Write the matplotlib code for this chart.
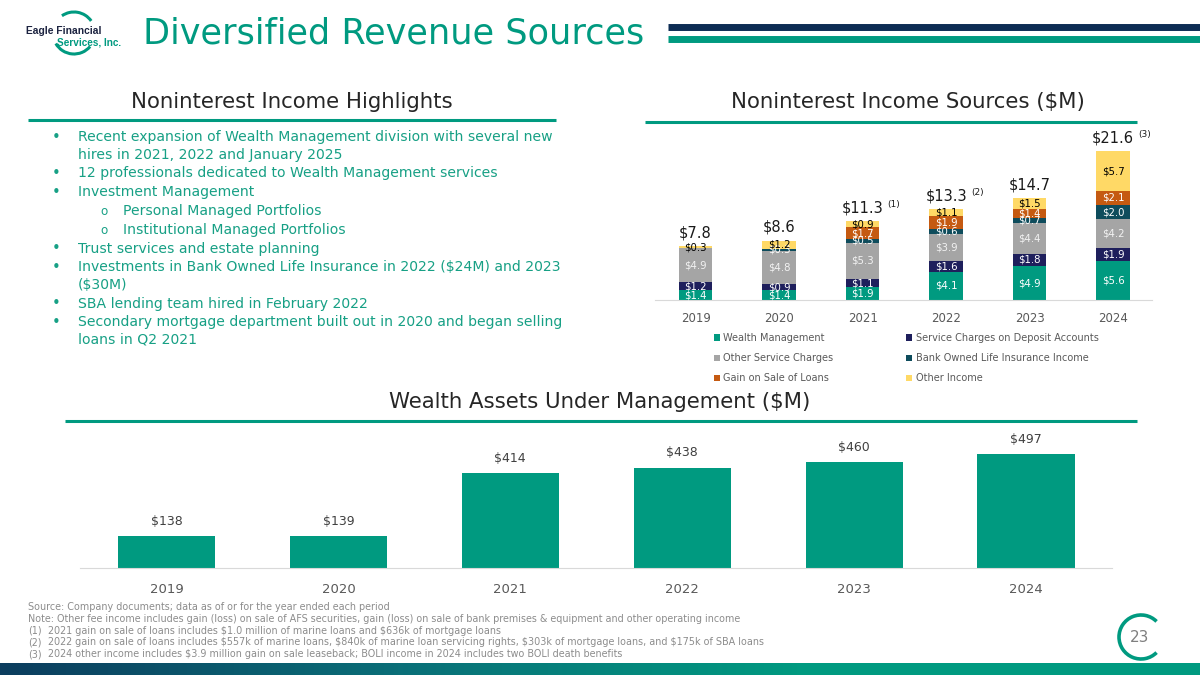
import matplotlib
matplotlib.use('Agg')
import matplotlib.pyplot as plt
import numpy as np
from matplotlib.patches import Arc
from matplotlib.colors import LinearSegmentedColormap

plt.rcParams['font.family'] = ['DejaVu Sans']
plt.rcParams['text.parse_math'] = False

# ---------------- data ----------------
years = ['2019', '2020', '2021', '2022', '2023', '2024']
wealth_mgmt = [1.4, 1.4, 1.9, 4.1, 4.9, 5.6]
svc_deposit = [1.2, 0.9, 1.1, 1.6, 1.8, 1.9]
other_svc = [4.9, 4.8, 5.3, 3.9, 4.4, 4.2]
boli = [0.0, 0.3, 0.5, 0.6, 0.7, 2.0]
gain_loans = [0.0, 0.0, 1.7, 1.9, 1.4, 2.1]
other_income = [0.3, 1.2, 0.9, 1.1, 1.5, 5.7]
totals = [7.8, 8.6, 11.3, 13.3, 14.7, 21.6]
total_notes = ['', '', '(1)', '(2)', '', '(3)']
series_names = ['Wealth Management', 'Service Charges on Deposit Accounts',
                'Other Service Charges', 'Bank Owned Life Insurance Income',
                'Gain on Sale of Loans', 'Other Income']
series_colors = ['#009a80', '#1e1f5c', '#a5a5a5', '#0e4c5c', '#c55a11', '#ffd966']
label_colors = ['white', 'white', '#f2f2f2', 'white', 'white', 'black']

aum = [138, 139, 414, 438, 460, 497]

bullets = [
    (0, ["Recent expansion of Wealth Management division with several new",
         "hires in 2021, 2022 and January 2025"]),
    (0, ["12 professionals dedicated to Wealth Management services"]),
    (0, ["Investment Management"]),
    (1, ["Personal Managed Portfolios"]),
    (1, ["Institutional Managed Portfolios"]),
    (0, ["Trust services and estate planning"]),
    (0, ["Investments in Bank Owned Life Insurance in 2022 ($24M) and 2023",
         "($30M)"]),
    (0, ["SBA lending team hired in February 2022"]),
    (0, ["Secondary mortgage department built out in 2020 and began selling",
         "loans in Q2 2021"]),
]

footnotes = [
    ("", "Source: Company documents; data as of or for the year ended each period"),
    ("", "Note: Other fee income includes gain (loss) on sale of AFS securities, gain (loss) on sale of bank premises & equipment and other operating income"),
    ("(1)", "2021 gain on sale of loans includes $1.0 million of marine loans and $636k of mortgage loans"),
    ("(2)", "2022 gain on sale of loans includes $557k of marine loans, $840k of marine loan servicing rights, $303k of mortgage loans, and $175k of SBA loans"),
    ("(3)", "2024 other income includes $3.9 million gain on sale leaseback; BOLI income in 2024 includes two BOLI death benefits"),
]

TEAL = '#009a80'
NAVY = '#0d2c54'
W, H = 1200, 675

fig = plt.figure(figsize=(12, 6.75), dpi=100)
fig.patch.set_facecolor('white')

def rect(x0, y0, x1, y1):
    return [x0 / W, (H - y1) / H, (x1 - x0) / W, (y1 - y0) / H]

bg = fig.add_axes([0, 0, 1, 1], zorder=0)
bg.set_xlim(0, W)
bg.set_ylim(H, 0)
bg.axis('off')

renderer = fig.canvas.get_renderer()

def fit_fs(text, width_px, base=10, **kw):
    t = bg.text(0, 0, text, fontsize=base, **kw)
    w = t.get_window_extent(renderer=renderer).width
    t.remove()
    return base * width_px / w

# ---------------- header ----------------
fs = fit_fs("Diversified Revenue Sources", 502)
bg.text(143, 33, "Diversified Revenue Sources", fontsize=fs, color=TEAL,
        ha='left', va='center')
bg.plot([668, 1200], [26.5, 26.5], color=NAVY, lw=5.0, solid_capstyle='butt')
bg.plot([668, 1200], [38.5, 38.5], color=TEAL, lw=5.0, solid_capstyle='butt')

# logo
LOGO_FAM = ['Liberation Sans Narrow', 'Liberation Sans', 'DejaVu Sans']
bg.add_patch(Arc((74, 33), 42, 42, theta1=-125, theta2=-35, color=TEAL, lw=2.2))
bg.add_patch(Arc((74, 33), 42, 42, theta1=40, theta2=150, color=TEAL, lw=2.2))
lf = fit_fs("Eagle Financial", 75, family=LOGO_FAM, weight='bold')
bg.text(26, 31, "Eagle Financial", fontsize=lf, color='#1c2340', weight='bold',
        family=LOGO_FAM, ha='left', va='center')
lf2 = fit_fs("Services, Inc.", 64, family=LOGO_FAM, weight='bold')
bg.text(57, 42.5, "Services, Inc.", fontsize=lf2, color=TEAL, weight='bold',
        family=LOGO_FAM, ha='left', va='center')

# ---------------- section titles ----------------
tf = fit_fs("Noninterest Income Highlights", 323)
bg.text(292, 102, "Noninterest Income Highlights", fontsize=tf, color='#262626',
        ha='center', va='center')
bg.plot([28, 556], [120, 120], color=TEAL, lw=2.2, solid_capstyle='butt')

bg.text(908, 102, "Noninterest Income Sources ($M)", fontsize=tf, color='#262626',
        ha='center', va='center')
bg.plot([645, 1137], [122, 122], color=TEAL, lw=2.2, solid_capstyle='butt')

bg.text(600, 402, "Wealth Assets Under Management ($M)", fontsize=tf, color='#262626',
        ha='center', va='center')
bg.plot([65, 1137], [421, 421], color=TEAL, lw=2.2, solid_capstyle='butt')

# ---------------- bullets ----------------
bf = fit_fs(bullets[0][1][0], 472)
BCOL = '#17a085'
y = 137
first = True
for level, lines in bullets:
    if not first:
        y += 18.8
    first = False
    if level == 0:
        bg.text(52, y, "\u2022", fontsize=bf * 1.05, color=BCOL, ha='left', va='center')
        tx = 78
    else:
        bg.text(100, y + 1, "o", fontsize=bf * 0.85, color=BCOL, ha='left', va='center')
        tx = 123
    for k, line in enumerate(lines):
        if k > 0:
            y += 17.5
        bg.text(tx, y, line, fontsize=bf, color=BCOL, ha='left', va='center')

# ---------------- footnotes ----------------
ff = fit_fs(footnotes[1][1], 708)
for i, (num, txt) in enumerate(footnotes):
    yy = 607 + i * 11.8
    if num:
        bg.text(28, yy, num, fontsize=ff, color='#8c8c8c', ha='left', va='center')
        bg.text(48, yy, txt, fontsize=ff, color='#8c8c8c', ha='left', va='center')
    else:
        bg.text(28, yy, txt, fontsize=ff, color='#8c8c8c', ha='left', va='center')

# page number
bg.add_patch(Arc((1141, 637), 44, 44, theta1=45, theta2=315, color=TEAL, lw=2.6))
bg.text(1140, 637, "23", fontsize=11, color='#7f7f7f', ha='center', va='center')

# bottom gradient band
cmap = LinearSegmentedColormap.from_list('band', ['#0c3d5e', '#0a6f78', '#009a80', '#009a80'])
grad = np.linspace(0, 1, 256).reshape(1, -1)
bg.imshow(grad, extent=(0, W, 675, 663), aspect='auto', cmap=cmap, zorder=1)
bg.set_xlim(0, W)
bg.set_ylim(H, 0)

# ---------------- stacked chart ----------------
ax1 = fig.add_axes(rect(655, 134, 1152, 300), zorder=2)
ax1.patch.set_alpha(0)
x = np.arange(len(years))
series = [wealth_mgmt, svc_deposit, other_svc, boli, gain_loans, other_income]
bottom = np.zeros(len(years))
handles = []
for vals, name, col, lcol in zip(series, series_names, series_colors, label_colors):
    vals = np.array(vals)
    bc = ax1.bar(x, vals, 0.40, bottom=bottom, color=col, label=name, zorder=2)
    handles.append(bc)
    for xi, v, b in zip(x, vals, bottom):
        if v > 0:
            ax1.text(xi, b + v / 2, f"${v:.1f}", ha='center', va='center',
                     fontsize=7.3, color=lcol, zorder=3)
    bottom = bottom + vals

for xi, tot, note, top in zip(x, totals, total_notes, bottom):
    t = ax1.annotate(f"${tot:.1f}", (xi, top), xytext=(0, 4), textcoords='offset points',
                     ha='center', va='bottom', fontsize=10.5, color='#1a1a1a')
    if note:
        ax1.annotate(note, xy=(1.0, 0.72), xycoords=t, xytext=(3, 0),
                     textcoords='offset points', ha='left', va='center',
                     fontsize=6.5, color='#1a1a1a')

ax1.set_xlim(-0.486, 5.466)
ax1.set_ylim(0, 24)
ax1.set_yticks([])
ax1.set_xticks(x)
ax1.set_xticklabels(years, fontsize=8.5, color='#595959')
ax1.tick_params(axis='x', length=0, pad=9)
for s in ['top', 'right', 'left']:
    ax1.spines[s].set_visible(False)
ax1.spines['bottom'].set_color('#d9d9d9')

order = [0, 2, 4, 1, 3, 5]
leg = ax1.legend([handles[i] for i in order], [series_names[i] for i in order],
                 ncol=2, frameon=False, loc='upper left',
                 bbox_to_anchor=(714 / W, (H - 333) / H), bbox_transform=fig.transFigure,
                 fontsize=7, handlelength=0.6, handleheight=0.6, handletextpad=0.35,
                 columnspacing=7.5, labelspacing=1.05, borderaxespad=0, borderpad=0)
for txt in leg.get_texts():
    txt.set_color('#595959')

# ---------------- AUM chart ----------------
ax2 = fig.add_axes(rect(80, 440, 1112, 568), zorder=2)
ax2.patch.set_alpha(0)
x2 = np.arange(len(years))
ax2.bar(x2, aum, 0.565, color=TEAL, zorder=2)
for xi, v in zip(x2, aum):
    ax2.annotate(f"${v}", (xi, v), xytext=(0, 6), textcoords='offset points',
                 ha='center', va='bottom', fontsize=9, color='#404040')
ax2.set_xlim(-0.503, 5.50)
ax2.set_ylim(0, 558)
ax2.set_yticks([])
ax2.set_xticks(x2)
ax2.set_xticklabels(years, fontsize=9.5, color='#595959')
ax2.tick_params(axis='x', length=0, pad=11)
for s in ['top', 'right', 'left']:
    ax2.spines[s].set_visible(False)
ax2.spines['bottom'].set_color('#d9d9d9')

fig.savefig('out.png', dpi=100, facecolor='white')
